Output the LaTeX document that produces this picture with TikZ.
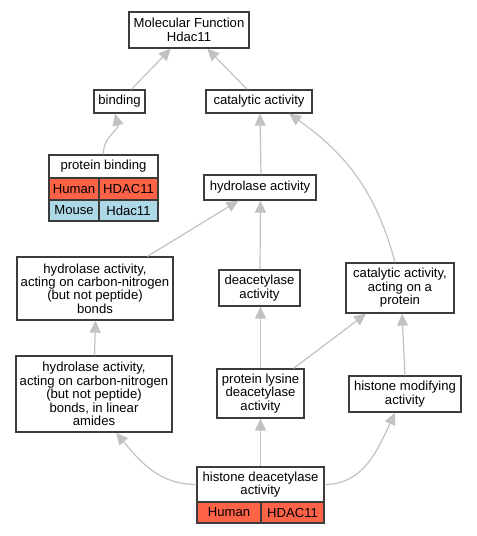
\documentclass[tikz,border=0pt]{standalone}
\usepackage{fontspec}
\setmainfont{Liberation Sans}
\usetikzlibrary{shapes,arrows.meta,positioning}
\definecolor{edgegray}{HTML}{C2C2C2}
\definecolor{boxgray}{HTML}{3C3C3C}
\definecolor{humanred}{HTML}{FF6347}
\definecolor{mouseblue}{HTML}{ADD8E6}
\tikzset{
	term/.style={draw=boxgray, line width=1.3pt, fill=white, align=center, inner sep=0pt, font=\fontsize{13.1}{13.4}\selectfont},
	human/.style={term, fill=humanred},
	mouse/.style={term, fill=mouseblue},
	isa/.style={draw=edgegray, line width=1.2pt, -{Triangle[length=12pt,width=11pt]}}
}

\begin{document}
\begin{tikzpicture}[x=1pt, y=-1pt]
				\useasboundingbox (0,0) rectangle (477,536);
				\node [term, minimum width=120, minimum height=36]	(mf)		at (189,30)		{Molecular Function\\Hdac11};
				\node [term, minimum width=51, minimum height=23]	(binding)	at (119.5,101.5)	{binding};
				\node [term, minimum width=106, minimum height=23]	(catalytic)	at (259,101.5)	{catalytic activity};
				\node [term, minimum width=109, minimum height=23]	(pbind)		at (103.5,166.5)	{protein binding};
				\node [human, minimum width=50, minimum height=22]	(pbhuman)	at (74,189)		{Human};
				\node [human, minimum width=59, minimum height=22]	(pbhgene)	at (128.5,189)	{HDAC11};
				\node [mouse, minimum width=50, minimum height=21]	(pbmouse)	at (74,210.5)	{Mouse};
				\node [mouse, minimum width=59, minimum height=21]	(pbmgene)	at (128.5,210.5)	{Hdac11};
				\node [term, minimum width=112, minimum height=25]	(hydro)		at (260,187.5)	{hydrolase activity};
				\node [term, minimum width=156, minimum height=63]	(hydrocn)	at (95,288.5)		{hydrolase activity,\\acting on carbon-nitrogen\\(but not peptide)\\bonds};
				\node [term, minimum width=81, minimum height=36]	(deacet)	at (259.5,288)	{deacetylase\\activity};
				\node [term, minimum width=108, minimum height=50]	(catprot)	at (400,288)		{catalytic activity,\\acting on a\\protein};
				\node [term, minimum width=156, minimum height=76]	(hydrolin)	at (94,394)		{hydrolase activity,\\acting on carbon-nitrogen\\(but not peptide)\\bonds, in linear\\amides};
				\node [term, minimum width=87, minimum height=49]	(lysine)	at (260.5,393.5)	{protein lysine\\deacetylase\\activity};
				\node [term, minimum width=112, minimum height=36]	(histmod)	at (405,394)		{histone modifying\\activity};
				\node [term, minimum width=127, minimum height=35]	(hdac)		at (260.5,484.5)	{histone deacetylase\\activity};
				\node [human, minimum width=64, minimum height=21]	(hdhuman)	at (229,512.5)	{Human};
				\node [human, minimum width=63, minimum height=21]	(hdgene)	at (292.5,512.5)	{HDAC11};
				\draw [isa] (binding) -- (mf);
				\draw [isa] (catalytic) -- (mf);
				\draw [isa] (pbind.north) to [out=95, in=-75] ([xshift=-4.5pt]binding.south);
				\draw [isa] ([xshift=1pt]hydro.north) -- ([xshift=1pt]catalytic.south);
				\draw [isa] ([xshift=-5pt]catprot.north) to [out=105, in=-35] ([xshift=30pt]catalytic.south);
				\draw [isa] (hydrocn) -- (hydro);
				\draw [isa] ([xshift=0.5pt]deacet.north) -- ([xshift=0.5pt]hydro.south);
				\draw [isa] ([xshift=0.5pt]hydrolin.north) -- ([xshift=0.5pt]hydrocn.south);
				\draw [isa] (lysine.north) -- ([xshift=1pt]deacet.south);
				\draw [isa] (lysine) -- (catprot);
				\draw [isa] (histmod.north) -- ([xshift=2pt]catprot.south);
				\draw [isa] (hdac.west) to [out=180, in=-50] ([xshift=22pt]hydrolin.south);
				\draw [isa] (hdac.north) -- (lysine.south);
				\draw [isa] (hdac.east) to [out=0, in=-115] ([xshift=-10pt]histmod.south);
\end{tikzpicture}
\end{document}
